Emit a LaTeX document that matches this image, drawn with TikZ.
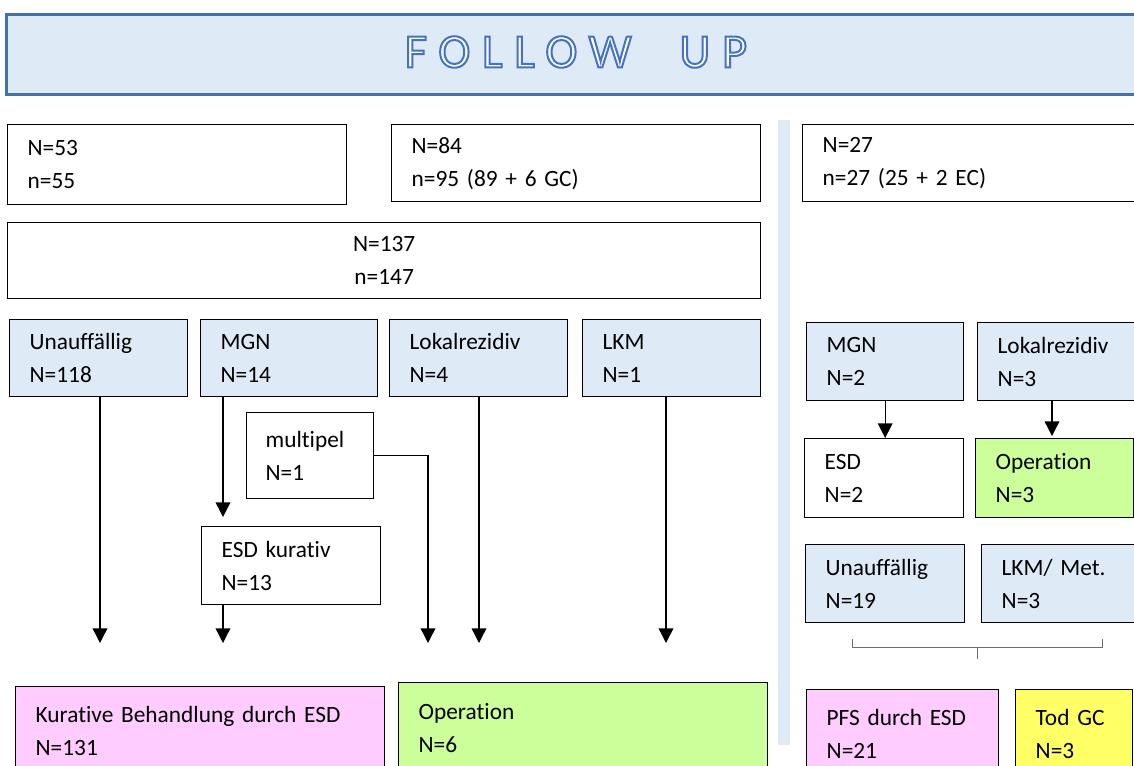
\documentclass[tikz,border=0pt]{standalone}
\usepackage{fontspec}
\setmainfont{Carlito}[Ligatures=NoCommon]
\newfontfamily\titlefont[LetterSpace=25]{Carlito}
\usetikzlibrary{arrows.meta}

\definecolor{fublue}{RGB}{222,234,246}
\definecolor{fuframe}{RGB}{68,114,168}
\definecolor{futext}{RGB}{68,114,196}
\definecolor{fupink}{RGB}{255,204,255}
\definecolor{fugreen}{RGB}{204,255,153}
\definecolor{fuyellow}{RGB}{255,255,102}
\definecolor{fugray}{RGB}{110,110,110}

\newdimen\px
\px=0.75pt

% hollow letters: stroke in text colour, fill white
\newcommand{\hollow}[1]{\special{pdf:literal direct 2 Tr 1.5 w 1 1 1 rg}#1\special{pdf:literal direct 0 Tr}}

\tikzset{
	fubox/.style={draw, line width=1pt, anchor=north west, align=left,
		inner xsep=20\px, inner ysep=0pt, font=\fontsize{17.5}{24.75}\selectfont},
	titletext/.style={font=\titlefont\fontsize{36}{40}\selectfont, inner sep=0pt, text=futext},
	arr/.style={-{Triangle[length=11pt,width=11pt]}, line width=1pt},
	brace/.style={draw=fugray, line width=0.6pt}
}

\begin{document}
\begin{tikzpicture}[x=0.75pt, y=-0.75pt]

	\useasboundingbox (0,0) rectangle (1134,765);
	\clip (0,0) rectangle (1134,765);

	%title bar
	\node[draw=fuframe, line width=2.2pt, fill=fublue, anchor=north west,
		minimum width=1145\px, minimum height=80\px, inner sep=0pt] (title) at (5,13) {};
	\node[titletext] (ttext) at (576,52) {\hollow{FOLLOW\quad UP}};

	%separator
	\fill[fublue] (778,120) rectangle (790,745);

	%top boxes
	\node[fubox, text width=299\px, minimum height=80\px] (n53) at (7,124) {N=53\\n=55};
	\node[fubox, text width=329\px, minimum height=77\px] (n84) at (391,124) {N=84\\n=95 (89 + 6 GC)};
	\node[fubox, text width=310\px, minimum height=77\px] (n27) at (802,124) {N=27\\n=27 (25 + 2 EC)};
	\node[fubox, align=center, text width=713\px, minimum height=76\px] (n137) at (7,222) {N=137\\n=147};

	%left findings
	\node[fubox, fill=fublue, text width=138\px, minimum height=77\px] (unauf) at (9,319) {Unauffällig\\N=118};
	\node[fubox, fill=fublue, text width=137\px, minimum height=77\px] (mgn) at (200,319) {MGN\\N=14};
	\node[fubox, fill=fublue, text width=138\px, minimum height=77\px] (lokal) at (389,319) {Lokalrezidiv\\N=4};
	\node[fubox, fill=fublue, text width=138\px, minimum height=77\px] (lkm) at (582,319) {LKM\\N=1};
	\node[fubox, text width=89\px, minimum height=86\px, inner xsep=19\px] (multi) at (246,412) {multipel\\N=1};
	\node[fubox, text width=139\px, minimum height=78\px] (esdk) at (201,526) {ESD kurativ\\N=13};

	%left results
	\node[fubox, fill=fupink, text width=329\px, minimum height=88\px] (kur) at (15,686) {Kurative Behandlung durch ESD\\N=131};
	\node[fubox, fill=fugreen, text width=329\px, minimum height=90\px] (op6) at (398,682) {Operation\\N=6};

	%right column
	\node[fubox, fill=fublue, text width=117\px, minimum height=78\px] (mgn2) at (806,322) {MGN\\N=2};
	\node[fubox, fill=fublue, text width=140\px, minimum height=78\px] (lok3) at (977,322) {Lokalrezidiv\\N=3};
	\node[fubox, text width=119\px, minimum height=79\px] (esd2) at (804,438) {ESD\\N=2};
	\node[fubox, fill=fugreen, text width=118\px, minimum height=79\px] (op3) at (975,438) {Operation\\N=3};
	\node[fubox, fill=fublue, text width=119\px, minimum height=78\px] (unauf19) at (805,544) {Unauffällig\\N=19};
	\node[fubox, fill=fublue, text width=140\px, minimum height=78\px] (lkm3) at (981,544) {LKM/ Met.\\N=3};
	\node[fubox, fill=fupink, text width=152\px, minimum height=88\px] (pfs) at (806,689) {PFS durch ESD\\N=21};
	\node[fubox, fill=fuyellow, text width=77\px, minimum height=88\px] (tod) at (1015,689) {Tod GC\\N=3};

	%arrow ends
	\coordinate (t1) at (100,643);
	\coordinate (t2) at (223,643);
	\coordinate (t3) at (428,643);
	\coordinate (t4) at (479,643);
	\coordinate (t5) at (666,643);
	\coordinate (t6) at (1052,436);

	%arrows
	\draw[arr] (unauf.south -| t1) -- (t1);
	\draw[arr, shorten >=9\px] (mgn.south -| t2) -- (esdk.north -| t2);
	\draw[arr] (esdk.south -| t2) -- (t2);
	\draw[arr] (multi.east) -| (t3);
	\draw[arr] (lokal.south -| t4) -- (t4);
	\draw[arr] (lkm.south -| t5) -- (t5);
	\draw[arr] (mgn2.south) -- (mgn2.south |- esd2.north);
	\draw[arr] (lok3.south -| t6) -- (t6);

	%brace
	\coordinate (b1) at (852,639);
	\coordinate (b2) at (1102,639);
	\coordinate (bm) at (977,659);
	\draw[brace] (b1) |- (bm |- 0,647) -| (b2);
	\draw[brace] (bm |- 0,647) -- (bm);
\end{tikzpicture}
\end{document}
